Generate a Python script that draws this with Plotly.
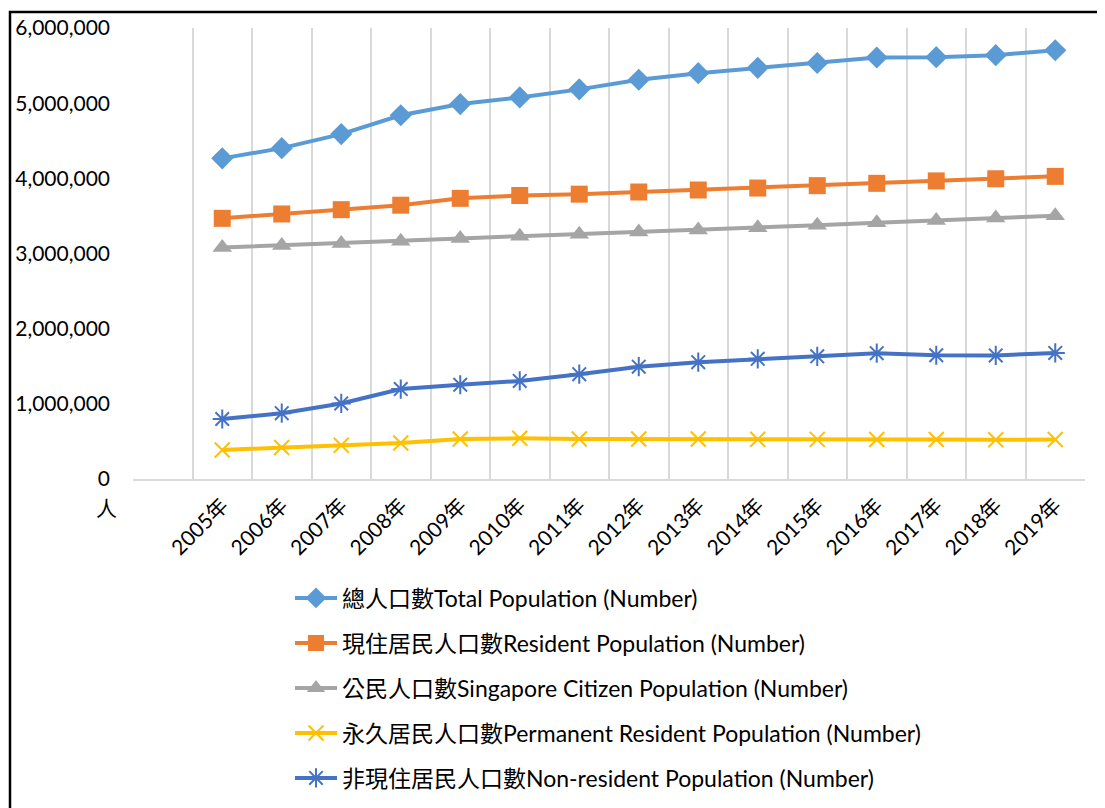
import plotly.graph_objects as go

years = ["2005年", "2006年", "2007年", "2008年", "2009年", "2010年", "2011年", "2012年",
         "2013年", "2014年", "2015年", "2016年", "2017年", "2018年", "2019年"]

total = [4265762, 4401365, 4588599, 4839396, 4987573, 5076732, 5183688, 5312437,
         5399162, 5469724, 5535002, 5607283, 5612253, 5638676, 5703569]
resident = [3467814, 3525894, 3583082, 3642659, 3733876, 3771721, 3789251, 3818205,
            3844751, 3870739, 3902690, 3933559, 3965796, 3994283, 4026209]
citizen = [3081001, 3107864, 3133849, 3164438, 3200693, 3230719, 3257228, 3285140,
           3313507, 3343030, 3375023, 3408943, 3439177, 3471936, 3500940]
pr = [386813, 418030, 449233, 478221, 533183, 541002, 532023, 533065,
      531244, 527709, 527667, 524616, 526619, 522347, 525269]
nonres = [797948, 875471, 1005517, 1196737, 1253697, 1305011, 1394437, 1494232,
          1554411, 1598985, 1632312, 1673724, 1646457, 1644393, 1677360]

names = ["總人口數Total Population (Number)",
         "現住居民人口數Resident Population (Number)",
         "公民人口數Singapore Citizen Population (Number)",
         "永久居民人口數Permanent Resident Population (Number)",
         "非現住居民人口數Non-resident Population (Number)"]
series = [total, resident, citizen, pr, nonres]
colors = ["#5B9BD5", "#ED7D31", "#A5A5A5", "#FFC000", "#4472C4"]
symbols = ["diamond", "square", "triangle-up", "x-thin", "asterisk"]
msizes = [17, 17, 17, 15, 16]

# page is offset by the browser's 8px body margin
OFF = 8
W, H = 1105 - OFF, 808 - OFF
L, R, T, B = 133 - OFF, 1085 - OFF, 28 - OFF, 479 - OFF

xpos = list(range(1, len(years) + 1))

fig = go.Figure()
legend_ys = [598, 643, 688, 733, 778]
for i, (nm, ys, c, s, ms) in enumerate(zip(names, series, colors, symbols, msizes)):
    lg = "legend" if i == 0 else f"legend{i+1}"
    marker = dict(symbol=s, size=ms, color=c)
    if s in ("x-thin", "asterisk"):
        marker["line"] = dict(color=c, width=2)
    fig.add_trace(go.Scatter(
        x=xpos, y=ys, name=nm, mode="lines+markers",
        line=dict(color=c, width=4), marker=marker, legend=lg,
    ))

font_family = "Lato, 'Noto Sans CJK TC', sans-serif"

legends = {}
for i, ly in enumerate(legend_ys):
    key = "legend" if i == 0 else f"legend{i+1}"
    legends[key] = dict(
        xref="container", yref="container",
        x=(290 - OFF) / W, y=1 - (ly - OFF) / H, xanchor="left", yanchor="middle",
        font=dict(size=23, family=font_family, color="#000000"),
        bgcolor="rgba(0,0,0,0)", itemwidth=42,
    )

fig.update_layout(
    width=W, height=H,
    margin=dict(l=L, r=W - R, t=T, b=H - B, autoexpand=False),
    paper_bgcolor="white", plot_bgcolor="white",
    font=dict(family=font_family, color="#000000"),
    showlegend=True,
    **legends,
)

fig.update_xaxes(
    range=[-0.5, len(years) + 0.5],
    tickmode="array", tickvals=xpos, ticktext=years,
    tickangle=-45, tickfont=dict(size=21, family=font_family, color="#000000"),
    showgrid=False, zeroline=False,
    showline=True, linecolor="#D9D9D9", linewidth=2,
    ticks="", ticklabelstandoff=4,
    minor=dict(tick0=-0.5, dtick=1, showgrid=True, gridcolor="#D9D9D9", gridwidth=2),
)
fig.update_yaxes(
    range=[0, 6000000], dtick=1000000, tickformat=",d",
    tickfont=dict(size=21, family=font_family, color="#000000"),
    showgrid=False, zeroline=False, showline=False, ticks="",
    ticklabelstandoff=22,
)

# outer frame
fig.add_shape(type="rect", xref="paper", yref="paper",
              x0=(10 - OFF - L) / (R - L), x1=(1112 - OFF - L) / (R - L),
              y0=(B - (812 - OFF)) / (B - T), y1=1 + (T - (12 - OFF)) / (B - T),
              line=dict(color="black", width=2.5), fillcolor="rgba(0,0,0,0)", layer="below")

fig.add_annotation(text="人", xref="paper", yref="paper",
                   x=(106 - OFF - L) / (R - L), y=(B - (507 - OFF)) / (B - T),
                   xanchor="center", yanchor="middle",
                   showarrow=False, font=dict(size=21, family="'Noto Sans CJK TC'", color="#000000"))

fig.write_html("out.html")
